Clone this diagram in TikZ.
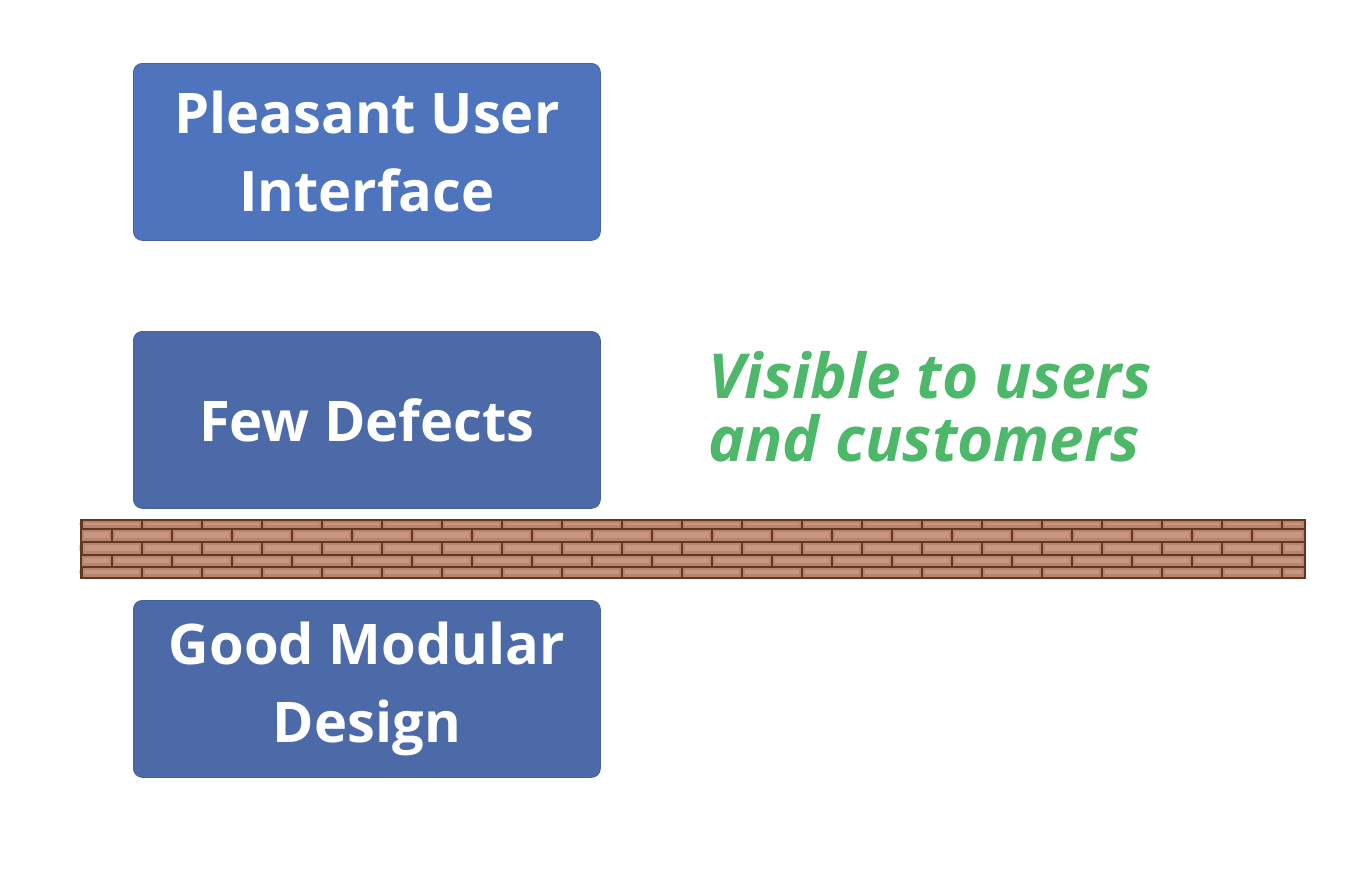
\documentclass[tikz,border=0pt]{standalone}
\usepackage{fontspec}
\setmainfont{Open Sans}
\IfFontExistsTF{Open Sans SemiBold}{%
  \newfontfamily\cardfont{Open Sans SemiBold}%
  \newcommand\cardsize{\fontsize{57}{78}\selectfont}%
  \newcommand\notesize{\fontsize{60}{63}\selectfont\itshape}%
}{%
  \newfontfamily\cardfont{Open Sans}%
  \newcommand\cardsize{\fontsize{56}{78}\selectfont\bfseries}%
  \newcommand\notesize{\fontsize{62}{63}\selectfont\bfseries\itshape}%
}
\definecolor{boxA}{RGB}{78,116,190}
\definecolor{boxB}{RGB}{77,106,168}
\definecolor{boxEdge}{RGB}{70,98,160}
\definecolor{greentxt}{RGB}{77,184,106}
\definecolor{brick}{RGB}{186,132,108}
\definecolor{brickhi}{RGB}{214,170,150}
\definecolor{mortar}{RGB}{96,56,36}
\tikzset{
  card/.style={draw=boxEdge, line width=0.8pt, rounded corners=9pt, minimum width=467pt, minimum height=177pt, text=white, align=center, font=\cardfont\cardsize, anchor=north west, inner sep=0pt},
  note/.style={text=greentxt, align=left, font=\cardfont\notesize, anchor=north west, inner sep=0pt}
}
\begin{document}
\begin{tikzpicture}[x=1pt,y=-1pt]
\useasboundingbox[fill=white] (0,0) rectangle (1348,870);
% brick wall
\fill[brick] (81,520) rectangle (1305,578);
\foreach \r/\ya/\yb/\sh in {0/520/529/0,1/529/542/30,2/542/555/0,3/555/567/30,4/567/578/0}{
  \foreach \k in {-1,...,21}{
    \pgfmathsetmacro{\xa}{max(81,82+\sh+60*\k)}
    \pgfmathsetmacro{\xb}{min(1305,82+\sh+60*(\k+1))}
    \ifdim\xa pt<\xb pt
      \fill[brickhi,opacity=0.5] (\xa+3,\ya+3) rectangle (\xb-3,\yb-4);
      \draw[mortar,line width=1.3pt] (\xa,\ya) -- (\xa,\yb);
    \fi
  }
  \draw[mortar,line width=1.3pt] (81,\yb) -- (1305,\yb);
}
\draw[mortar,line width=1.2pt] (81,520) rectangle (1305,578);
% boxes
\node[card, fill=boxA] (ui) at (133,63) {Pleasant User\\Interface};
\node[card, fill=boxB] (fd) at (133,331) {Few Defects};
\node[card, fill=boxB] (gm) at (133,600) {Good Modular\\Design};
% note
\node[note] (vis) at (708,351) {Visible to users\\and customers};
\end{tikzpicture}
\end{document}
